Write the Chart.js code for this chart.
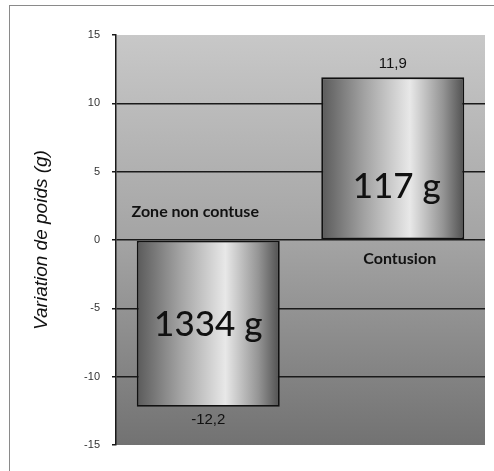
<!DOCTYPE html>
<html>
<head>
<meta charset="utf-8">
<script src="https://cdn.jsdelivr.net/npm/chart.js@4"></script>
<style>
  html, body { margin: 0; padding: 0; background: #fff; }
  canvas { display: block; }
</style>
</head>
<body>
<canvas id="poidsChart" width="494" height="471"></canvas>
<script>
const categories = ["Zone non contuse", "Contusion"];
const variation = [-12.2, 11.9];
const valueLabels = ["-12,2", "11,9"];
const massLabels = ["1334 g", "117 g"];
const yTicks = [-15, -10, -5, 0, 5, 10, 15];

const BAR_PCT = 0.775;

// metallic cylinder look for each bar
function barFill(ctx) {
  const chart = ctx.chart;
  const xs = chart.scales.x;
  if (!chart.chartArea || !xs) return "#aaa";
  const cx = xs.getPixelForValue(ctx.dataIndex);
  const half = xs.width / categories.length * BAR_PCT / 2;
  const g = chart.ctx.createLinearGradient(cx - half, 0, cx + half, 0);
  g.addColorStop(0, "#5a5a5a");
  g.addColorStop(0.3, "#a2a2a2");
  g.addColorStop(0.62, "#e8e8e8");
  g.addColorStop(0.85, "#959595");
  g.addColorStop(1, "#505050");
  return g;
}

const framePlugin = {
  id: "frame",
  beforeDraw(chart) {
    const { ctx, chartArea: a } = chart;
    ctx.save();
    ctx.fillStyle = "#fff";
    ctx.fillRect(0, 0, chart.width, chart.height);
    ctx.strokeStyle = "#8a8a8a";
    ctx.lineWidth = 1;
    ctx.strokeRect(9.5, 5.5, chart.width + 10, chart.height + 10);
    const g = ctx.createLinearGradient(0, a.top, 0, a.bottom);
    g.addColorStop(0, "#c8c8c8");
    g.addColorStop(0.5, "#a4a4a4");
    g.addColorStop(1, "#727272");
    ctx.fillStyle = g;
    ctx.fillRect(a.left, a.top, a.right - a.left, a.bottom - a.top);
    ctx.restore();
  }
};

const labelPlugin = {
  id: "barLabels",
  afterDatasetsDraw(chart) {
    const { ctx } = chart;
    const ys = chart.scales.y;
    const zero = ys.getPixelForValue(0);
    const bars = chart.getDatasetMeta(0).data;
    const catDx = [-13, 7];
    const massAt = [-6.2, 3.9];
    const massDx = [0, 4];
    ctx.save();
    ctx.textAlign = "center";
    ctx.textBaseline = "middle";
    ctx.fillStyle = "#111";
    bars.forEach((bar, i) => {
      const v = variation[i];
      // value just outside the bar end
      ctx.font = "15px 'Liberation Sans', Arial, sans-serif";
      ctx.fillText(valueLabels[i], bar.x, v >= 0 ? bar.y - 14 : bar.y + 13);
      // category name on the other side of zero
      ctx.font = "bold 16px Lato, sans-serif";
      ctx.fillText(categories[i], bar.x + catDx[i], v < 0 ? zero - 28 : zero + 19);
      // mass inside the bar
      ctx.font = "500 35px Lato, sans-serif";
      ctx.fillText(massLabels[i], bar.x + massDx[i], ys.getPixelForValue(massAt[i]));
    });
    ctx.restore();
  }
};

new Chart(document.getElementById("poidsChart"), {
  type: "bar",
  data: {
    labels: categories,
    datasets: [{
      data: variation,
      backgroundColor: barFill,
      borderColor: "#111",
      borderWidth: 1.8,
      borderSkipped: false,
      barPercentage: BAR_PCT,
      categoryPercentage: 1
    }]
  },
  options: {
    responsive: false,
    animation: false,
    events: [],
    layout: { padding: { top: 35, right: 9, bottom: 26, left: 0 } },
    plugins: {
      legend: { display: false },
      tooltip: { enabled: false }
    },
    scales: {
      x: { display: false },
      y: {
        min: -15,
        max: 15,
        afterBuildTicks: scale => { scale.ticks = yTicks.map(v => ({ value: v })); },
        afterFit: scale => { scale.width = 116; },
        ticks: {
          padding: 12,
          color: "#333",
          font: { family: "'Liberation Sans', Arial, sans-serif", size: 11 }
        },
        grid: {
          color: ctx => (Math.abs(ctx.tick.value) === 15 ? "rgba(0,0,0,0)" : "#1a1a1a"),
          tickColor: "#1a1a1a",
          tickLength: 4,
          lineWidth: 1.5
        },
        border: { display: true, color: "#1a1a1a", width: 1.5 },
        title: {
          display: true,
          text: "Variation de poids (g)",
          color: "#111",
          padding: { top: 30, bottom: 0 },
          font: { family: "'Liberation Sans', Arial, sans-serif", size: 19, style: "italic" }
        }
      }
    }
  },
  plugins: [framePlugin, labelPlugin]
});
</script>
</body>
</html>
